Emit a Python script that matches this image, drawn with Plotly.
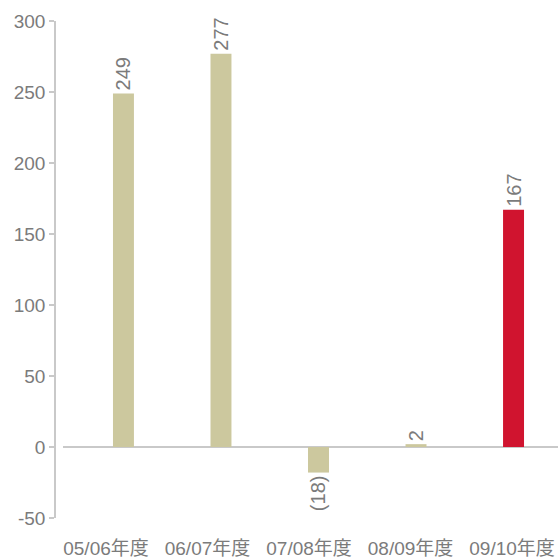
import plotly.graph_objects as go

# Fiscal years and yearly values
categories = ["05/06年度", "06/07年度", "07/08年度", "08/09年度", "09/10年度"]
values = [249, 277, -18, 2, 167]
bar_colors = ["#CCC89E", "#CCC89E", "#CCC89E", "#CCC89E", "#D0142F"]
y_ticks = [-50, 0, 50, 100, 150, 200, 250, 300]
y_tick_text = [str(v) for v in y_ticks]

# negative values shown in parentheses
labels = [f"({abs(v)})" if v < 0 else str(v) for v in values]

FONT = "Liberation Sans, Noto Sans CJK JP, sans-serif"
TXT = "#7b7b7b"
AXIS = "#c9c9c9"

fig = go.Figure()
fig.add_trace(go.Bar(
    x=categories, y=values,
    marker=dict(color=bar_colors, line=dict(width=0)),
    width=0.215,
    text=labels,
    textposition="outside",
    textangle=-90,
    constraintext="none",
    cliponaxis=False,
    textfont=dict(family=FONT, size=20, color=TXT),
    hoverinfo="x+y",
))
# carrier trace for the category label axis
fig.add_trace(go.Scatter(
    x=list(range(len(categories))), y=values, xaxis="x2",
    mode="markers", marker=dict(opacity=0), hoverinfo="skip", showlegend=False,
))

left_gap = 8 / 503
fig.update_layout(
    width=558, height=558,
    margin=dict(l=55, r=0, t=21, b=40),
    paper_bgcolor="white", plot_bgcolor="white",
    showlegend=False,
    font=dict(family=FONT, color=TXT, size=19),
    xaxis=dict(
        domain=[left_gap, 1], range=[-0.62, 4.456],
        showticklabels=False, ticks="", showline=False, showgrid=False, zeroline=False,
    ),
    xaxis2=dict(
        overlaying="x", anchor="y", side="bottom",
        domain=[left_gap, 1], range=[-0.4236, 4.453],
        tickmode="array", tickvals=list(range(len(categories))), ticktext=categories,
        tickfont=dict(family=FONT, size=19, color=TXT),
        ticklabelstandoff=17,
        ticks="", showline=False, showgrid=False, zeroline=False,
    ),
    yaxis=dict(
        range=[-50, 300], tickmode="array", tickvals=y_ticks, ticktext=y_tick_text,
        anchor="free", position=0,
        showline=True, linecolor=AXIS, linewidth=1.5,
        ticks="outside", ticklen=5, tickcolor=AXIS, tickwidth=1.5,
        tickfont=dict(family=FONT, size=19, color=TXT),
        showgrid=False,
        zeroline=True, zerolinecolor=AXIS, zerolinewidth=1.5,
    ),
)

fig.write_html("out.html")
